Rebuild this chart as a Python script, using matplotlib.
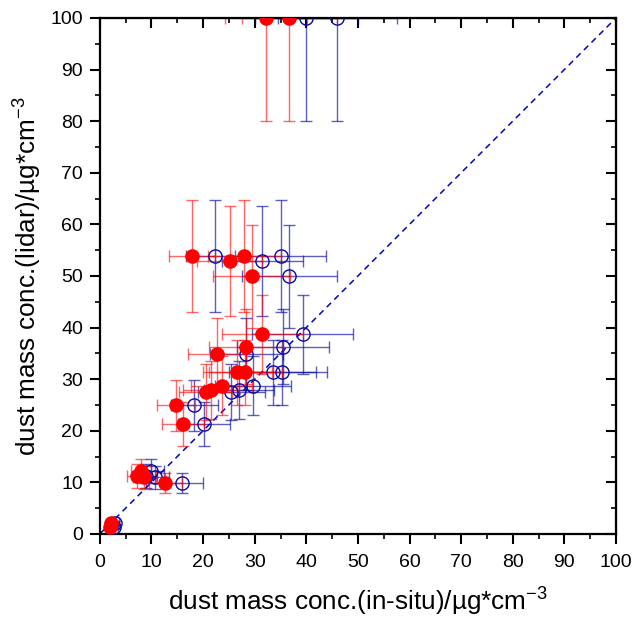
import numpy as np
import matplotlib
matplotlib.use('Agg')
import matplotlib.pyplot as plt
from matplotlib.ticker import MultipleLocator

plt.rcParams['font.family'] = ['Liberation Sans', 'DejaVu Sans']

# lidar values (shared by both series)
lidar = [100, 100, 53.9, 52.9, 53.9, 49.9, 38.7, 36.3, 34.9, 31.3, 31.3,
         28.7, 27.9, 27.5, 24.9, 21.3, 9.9, 11.3, 12.2, 11.0, 2.2, 1.4]
lidar_err = [20, 20, 10.8, 10.6, 10.8, 10.0, 7.7, 7.3, 7.0, 6.3, 6.3,
             5.7, 5.6, 5.5, 5.0, 4.3, 2.0, 2.3, 2.4, 2.2, 0.4, 0.3]

# in-situ, red (filled) series
insitu_red = [32.2, 36.7, 17.9, 25.2, 28.0, 29.4, 31.5, 28.3, 22.7, 26.6, 28.2,
              23.6, 21.5, 20.5, 14.7, 16.1, 12.7, 7.1, 8.0, 8.6, 2.2, 2.0]
insitu_red_err = [8.0, 9.2, 4.5, 6.3, 7.0, 7.4, 7.9, 7.1, 5.7, 6.7, 7.1,
                  5.9, 5.4, 5.1, 3.7, 4.0, 3.2, 1.8, 2.0, 2.2, 0.5, 0.5]

# in-situ, blue (open) series
insitu_blue = [40.0, 46.0, 22.3, 31.5, 35.0, 36.7, 39.3, 35.4, 28.4, 33.5, 35.3,
               29.7, 27.0, 25.5, 18.3, 20.2, 15.9, 8.9, 10.0, 10.6, 3.0, 2.8]
insitu_blue_err = [10.0, 11.5, 5.6, 7.9, 8.8, 9.2, 9.8, 8.9, 7.1, 8.4, 8.8,
                   7.4, 6.8, 6.4, 4.6, 5.0, 4.0, 2.2, 2.5, 2.7, 0.7, 0.7]

fig = plt.figure(figsize=(6.36, 6.18), dpi=100)
ax = fig.add_axes([0.157, 0.136, 0.8116, 0.835])

# 1:1 line
ax.plot([0, 100], [0, 100], color='#0000C8', ls=(0, (4, 3)), lw=1.1, zorder=1)

navy = '#0A0AA0'
ax.errorbar(insitu_blue, lidar, xerr=insitu_blue_err, yerr=lidar_err,
            fmt='none', ecolor=navy, elinewidth=1.0, capsize=4.5,
            capthick=1.0, alpha=0.65, zorder=2)
ax.errorbar(insitu_red, lidar, xerr=insitu_red_err, yerr=lidar_err,
            fmt='none', ecolor='red', elinewidth=1.0, capsize=4.5,
            capthick=1.0, alpha=0.6, zorder=2)
ax.plot(insitu_blue, lidar, 'o', ms=9.5, mfc='none', mec=navy, mew=1.0,
        ls='none', zorder=3)
ax.plot(insitu_red, lidar, 'o', ms=9.5, mfc='red', mec='red', mew=1.0,
        ls='none', zorder=4)

ax.set_xlim(0, 100)
ax.set_ylim(0, 100)
ax.xaxis.set_major_locator(MultipleLocator(10))
ax.yaxis.set_major_locator(MultipleLocator(10))
ax.xaxis.set_minor_locator(MultipleLocator(5))
ax.yaxis.set_minor_locator(MultipleLocator(5))

for s in ax.spines.values():
    s.set_linewidth(1.6)

ax.tick_params(which='major', direction='out', length=7, width=1.5,
               labelsize=14)
ax.tick_params(axis='x', which='major', pad=7.5)
ax.tick_params(axis='y', which='major', pad=5)
ax.tick_params(which='minor', direction='out', length=3.6, width=1.2)
# secondary top/right ticks pointing inwards
axt = ax.secondary_xaxis('top')
axt.xaxis.set_major_locator(MultipleLocator(10))
axt.xaxis.set_minor_locator(MultipleLocator(5))
axt.tick_params(which='major', direction='in', length=7, width=1.5, labeltop=False)
axt.tick_params(which='minor', direction='in', length=3.6, width=1.2)
axr = ax.secondary_yaxis('right')
axr.yaxis.set_major_locator(MultipleLocator(10))
axr.yaxis.set_minor_locator(MultipleLocator(5))
axr.tick_params(which='major', direction='in', length=7, width=1.5, labelright=False)
axr.tick_params(which='minor', direction='in', length=3.6, width=1.2)

# axis titles placed by baseline
fig.text(0.5627, 8 / 618, r'dust mass conc.(in-situ)/µg*cm$^{\mathregular{-3}}$',
         fontsize=18.8, ha='center', va='baseline')
fig.text(36 / 636, (618 - 276) / 618, r'dust mass conc.(lidar)/µg*cm$^{\mathregular{-3}}$',
         fontsize=18.8, ha='center', va='baseline', rotation=90, rotation_mode='anchor')

fig.savefig('out.png', dpi=100)
